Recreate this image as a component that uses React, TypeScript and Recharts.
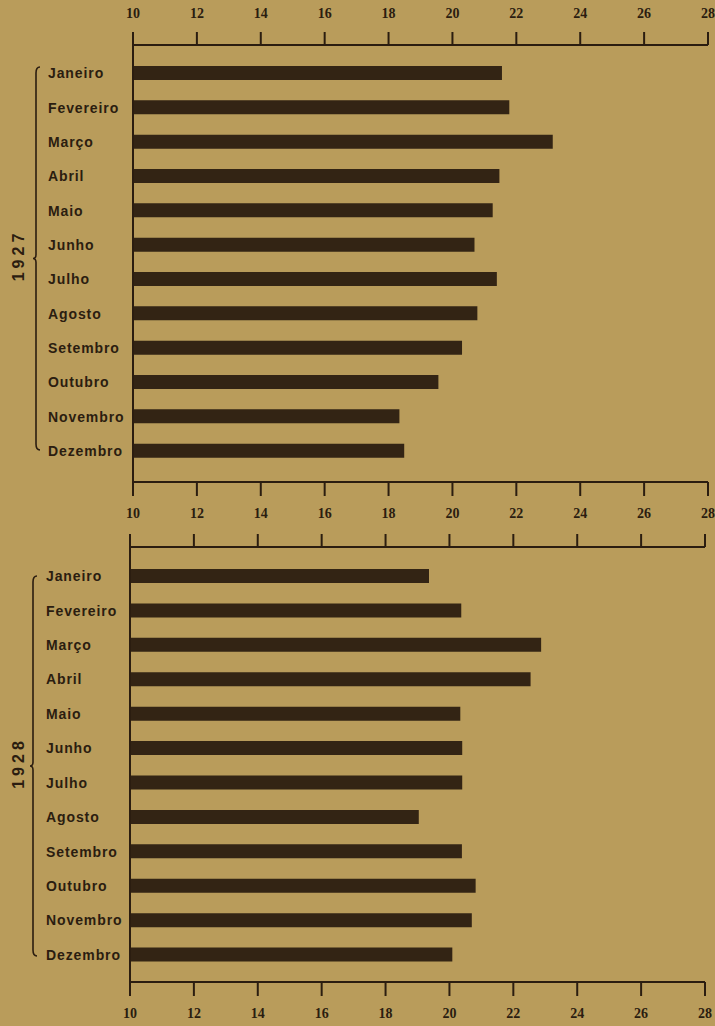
import { Bar, BarChart, XAxis, YAxis } from "recharts";

const months = [
  "Janeiro",
  "Fevereiro",
  "Março",
  "Abril",
  "Maio",
  "Junho",
  "Julho",
  "Agosto",
  "Setembro",
  "Outubro",
  "Novembro",
  "Dezembro",
];
const values1927 = [21.55, 21.78, 23.14, 21.47, 21.26, 20.69, 21.39, 20.78, 20.3, 19.56, 18.34, 18.49];
const values1928 = [19.36, 20.37, 22.87, 22.54, 20.34, 20.4, 20.4, 19.04, 20.39, 20.82, 20.7, 20.09];
const xTicks = [10, 12, 14, 16, 18, 20, 22, 24, 26, 28];
const years = ["1927", "1928"];

const PAPER = "#b99c5b";
const INK = "#2b1d10";
const BAR = "#332414";

const serif = "'Liberation Serif', 'DejaVu Serif', serif";
const sans = "'Liberation Sans', Arial, sans-serif";

const MonthTick = ({ y, payload, labelX }: any) => (
  <text
    x={labelX}
    y={y}
    dy={5}
    textAnchor="start"
    fontFamily={sans}
    fontWeight="bold"
    fontSize={14}
    letterSpacing={0.9}
    fill={INK}
  >
    {payload.value}
  </text>
);

const NoLabel = () => <g />;

function Panel({
  values,
  top,
  height,
  left,
  right,
  topAxisH,
  bottomAxisH,
  labelX,
  showTopLabels,
  pad,
}: {
  values: number[];
  top: number;
  height: number;
  left: number;
  right: number;
  topAxisH: number;
  bottomAxisH: number;
  labelX: number;
  showTopLabels: boolean;
  pad: { top: number; bottom: number };
}) {
  const data = months.map((m, i) => ({ month: m, value: values[i] }));
  const tickStyle = { fill: INK, fontFamily: serif, fontWeight: "bold", fontSize: 14 } as any;
  return (
    <div style={{ position: "absolute", left: 0, top }}>
      <BarChart
        width={715}
        height={height}
        data={data}
        layout="vertical"
        margin={{ top: 0, right, bottom: 0, left: 0 }}
        barCategoryGap={0}
      >
        <XAxis
          xAxisId="top"
          orientation="top"
          type="number"
          domain={[10, 28]}
          ticks={xTicks}
          allowDataOverflow
          height={topAxisH}
          stroke={INK}
          strokeWidth={2}
          tickSize={13}
          tickMargin={14}
          tick={showTopLabels ? tickStyle : <NoLabel />}
          tickLine={{ stroke: INK, strokeWidth: 2 }}
        />
        <XAxis
          xAxisId="bottom"
          orientation="bottom"
          type="number"
          domain={[10, 28]}
          ticks={xTicks}
          allowDataOverflow
          height={bottomAxisH}
          stroke={INK}
          strokeWidth={2}
          tickSize={14}
          tickMargin={12}
          tick={tickStyle}
          tickLine={{ stroke: INK, strokeWidth: 2 }}
        />
        <YAxis
          type="category"
          dataKey="month"
          width={left}
          stroke={INK}
          strokeWidth={2}
          tickLine={false}
          padding={pad}
          tick={<MonthTick labelX={labelX} />}
          interval={0}
        />
        <Bar xAxisId="top" dataKey="value" fill={BAR} barSize={14} isAnimationActive={false} />
      </BarChart>
    </div>
  );
}

function Brace({ x, y1, y2, label }: { x: number; y1: number; y2: number; label: string }) {
  const mid = (y1 + y2) / 2;
  const d = `M ${x + 4} ${y1} Q ${x} ${y1} ${x} ${y1 + 6} L ${x} ${mid - 4} Q ${x} ${mid} ${x - 3} ${mid} Q ${x} ${mid} ${x} ${mid + 4} L ${x} ${y2 - 6} Q ${x} ${y2} ${x + 4} ${y2}`;
  return (
    <g>
      <path d={d} fill="none" stroke={INK} strokeWidth={1.6} />
      <text
        x={18}
        y={mid - 3}
        transform={`rotate(-90 18 ${mid - 3})`}
        textAnchor="middle"
        dominantBaseline="central"
        fontFamily={sans}
        fontWeight="bold"
        fontSize={16}
        letterSpacing={4}
        fill={INK}
      >
        {label}
      </text>
    </g>
  );
}

export default function App() {
  return (
    <div
      style={{
        position: "absolute",
        left: 0,
        top: 0,
        width: 715,
        height: 1026,
        background: PAPER,
        overflow: "hidden",
      }}
    >
      <Panel
        values={values1927}
        top={0}
        height={530}
        left={133}
        right={7}
        topAxisH={45}
        bottomAxisH={48}
        labelX={48}
        showTopLabels
        pad={{ top: 11, bottom: 14 }}
      />
      <Panel
        values={values1928}
        top={520}
        height={506}
        left={130}
        right={10}
        topAxisH={27}
        bottomAxisH={44}
        labelX={46}
        showTopLabels={false}
        pad={{ top: 12, bottom: 10 }}
      />
      <svg
        width={715}
        height={1026}
        style={{ position: "absolute", left: 0, top: 0, pointerEvents: "none" }}
      >
        <Brace x={36} y1={67} y2={450} label={years[0]} />
        <Brace x={33} y1={576} y2={956} label={years[1]} />
      </svg>
    </div>
  );
}
